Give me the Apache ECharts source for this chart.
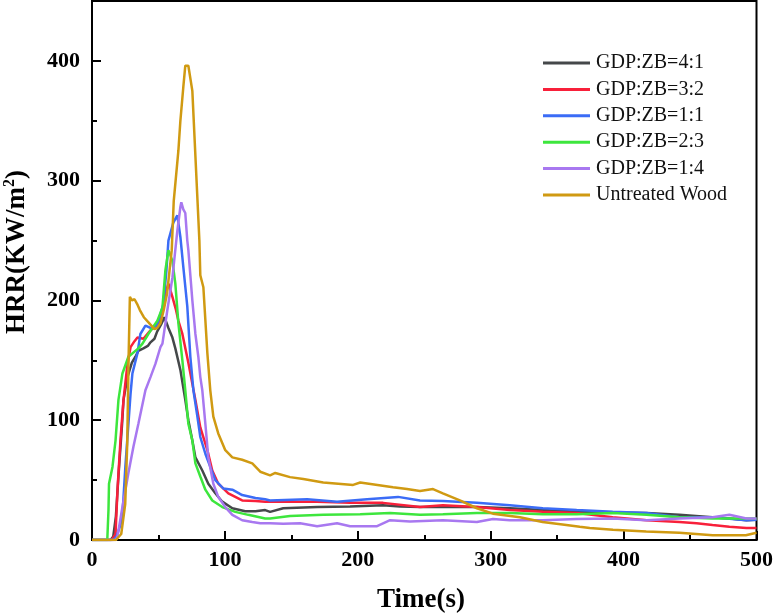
<!DOCTYPE html>
<html>
<head>
<meta charset="utf-8">
<script src="https://cdn.jsdelivr.net/npm/echarts@6/dist/echarts.min.js"></script>
<style>html,body{margin:0;padding:0;background:#fff}#c{width:776px;height:616px}</style>
</head>
<body>
<div id="c"></div>
<script>
const seriesNames = ['GDP:ZB=4:1','GDP:ZB=3:2','GDP:ZB=1:1','GDP:ZB=2:3','GDP:ZB=1:4','Untreated Wood'];
const seriesColors = ['#45484a','#f8203a','#3b6cf6','#3de63d','#a878f0','#d09a12'];
const xTicks = [0,100,200,300,400,500];
const yTicks = [0,100,200,300,400];

const t41 = [0,14,16,18,20,22.7,23.7,26.7,30,32.7,34.9,38.7,42,44,47,49,52,54.5,57.5,60.5,62.7,66.5,70.2,72.5,75.5,77.8,83,87.5,92.8,98,105.6,115.3,123,130.3,134,143.9,169.4,194.2,219,231.8,246.8,264,289.6,314.4,339.2,364.7,391.8,417.3,442,466.9,480,492.4,500];
const v41 = [0,0,3,20,55,98,117,136,148,153,158,160,162,165,168,174,180,186,177,169,160,142,117,100,83,69,58,47,39,32,26.5,24,24,25,23.5,26.5,27.5,28,29,28,27.5,27.5,27.5,26.5,25,23.5,23,22.5,21,19,18,16.5,17];

const t32 = [0,15,17.7,19.2,21.4,23.7,26.7,29,32,34.2,38.7,44,50,53,55,57.5,60.5,63,65,68,72.5,77.8,81.5,86.8,90.5,95,102.6,113,123,130.3,143.9,169.4,194.2,219,246.8,264,289.6,314.4,339.2,364.7,391.8,417.3,442,454.9,466.9,479.6,492.4,500];
const v32 = [0,0,5,42,83,117,147,161,166,169,168,175,181,190,205,214,203,193,183,172,148,117,94,75,58,47,39,33,32.5,32,32,32,31,31,27.5,29,27.5,25,23.5,22.5,19,16.5,15,14,12.5,11,10,10];

const t11 = [0,16,18.5,20,22.7,25.1,27.4,29,30.4,34.2,36.4,40.2,44,47.7,50,53.7,56,57.5,61.2,64.2,66.5,68.7,71.7,74,76.3,79.3,81.5,85.3,89,92.8,98.8,105.6,113,123,130.3,134,161.9,184.4,207,230.3,246.8,264,289.6,314.4,339.2,364.7,391.8,417.3,442,466.9,492.4,500];
const v11 = [0,0,3,8,17,61,97,122,139,156,172,179,177,177,183,197,225,250,265,271,253,228,195,153,125,103,86,72,61,50,43,42,37.5,35,34,33,34,32,34,36,33,32.5,31,29,26.5,25,23.5,22.5,19,19,16.5,17];

const t23 = [0,11.5,12.4,12.8,15.4,17.7,19.9,22.9,27.4,34.9,38,42.4,49.2,53,55.2,57.5,60.5,62.7,65,68,70.2,72.5,75.5,77.8,81.5,85.3,90.5,98,107.8,117.6,130.3,134,149,174,201.8,224.3,246.8,264,289.6,314.4,339.2,364.7,391.8,417.3,442,466.9,492.4,500];
const v23 = [0,0,25,47,61,83,117,139,153,160,164,172,183,194,225,242,233,214,181,150,125,97,83,64,53,42,33,27.5,23.5,21,18,18,20,21,21.5,22.5,21,21.5,22.5,22.5,21.5,21.5,22.5,21,19,18,18,18];

const t14 = [0,17.7,19,22.9,27.4,31.2,34.9,40.2,44,47.7,51.5,53,56.7,60.5,64.2,66.5,67.2,68.7,70.2,71.7,72.5,75.5,77.8,80,81.5,83,85.3,87.5,91.3,95,100.3,105.6,113,120.6,126.6,134,143.9,156.6,169.4,184.4,194.2,214.5,224.3,239.3,264,289.6,301.7,314.4,339.2,364.7,391.8,417.3,442,466.9,479.6,492.4,500];
const v14 = [0,0,2,27.5,56,78,97,125,136,147,161,164,192,219,258,278,282,276,273,250,242,200,172,153,136,125,97,69,47,36,27.5,21,16.5,15,14,14,13.5,14,11.5,14,11.5,11.5,16.5,15.5,16.5,15,17.5,16.5,16.5,17.5,18,16.5,18,19,21,18,18];

const tWood = [0,18,22,25,26.5,27.5,28.5,30,32,34,36,39,43,47,49,51.5,54,56.5,60,61.5,65,66.5,68.7,70.2,72.5,75.5,80.8,81.5,83,83.8,86.8,89,91.3,95,100.3,105.6,113,120.6,126.6,134,137.9,149,159,174,196.5,201.8,226.5,237,246.8,256.6,264,276.8,289.6,301.7,322,339,354,367,374.5,392,417,442,467,492,500];
const vWood = [0,0,5,30,80,150,203,200,201,197,192,186,181,176,177,181,192,206,242,283,325,350,378,396,396,375,250,221,221,211,156,125,103,89,75,69,67,64,57,54,56,52.5,51,48,46,48,44,42.5,41,42.5,39,33,26.5,22,19,15,13,11,10,8.5,7,6,4,4,6];

const allT = [t41,t32,t11,t23,t14,tWood];
const allV = [v41,v32,v11,v23,v14,vWood];

const FONT = '"Liberation Serif","Times New Roman",serif';
const chart = echarts.init(document.getElementById('c'), null, {renderer:'canvas'});

const series = seriesNames.map((n,i)=>({
  name:n, type:'line', symbol:'none', showSymbol:false, animation:false,
  data: allT[i].map((t,j)=>[t, allV[i][j]]),
  lineStyle:{color:seriesColors[i], width:2.5},
  itemStyle:{color:seriesColors[i]},
  z: 2+i
}));

chart.setOption({
  backgroundColor:'#fff',
  animation:false,
  grid:{left:92, right:19, top:1, bottom:76, show:true, borderColor:'#000', borderWidth:2, backgroundColor:'transparent'},
  legend:{
    orient:'vertical', left:538, top:48, itemWidth:47, itemHeight:20, itemGap:6.4,
    icon:'path://M0,9 L47,9 L47,12 L0,12 Z',
    textStyle:{fontFamily:FONT, fontSize:20, color:'#111', padding:[0,0,0,1]},
    data: seriesNames.map((n,i)=>({name:n, itemStyle:{color:seriesColors[i]}}))
  },
  xAxis:{
    type:'value', min:0, max:500, interval:100,
    axisLine:{show:true, onZero:false, lineStyle:{color:'#000', width:2}},
    axisTick:{show:true, inside:true, length:9, lineStyle:{color:'#000', width:2}},
    minorTick:{show:true, splitNumber:2, length:5, lineStyle:{color:'#000', width:2}},
    splitLine:{show:false},
    axisLabel:{fontFamily:FONT, fontWeight:'bold', fontSize:22, color:'#000', margin:9,
      formatter:(v)=> xTicks.includes(v) ? String(v) : ''}
  },
  yAxis:{
    type:'value', min:0, max:450, interval:100,
    axisLine:{show:true, onZero:false, lineStyle:{color:'#000', width:2}},
    axisTick:{show:true, inside:true, length:9, lineStyle:{color:'#000', width:2}},
    minorTick:{show:true, splitNumber:2, length:5, lineStyle:{color:'#000', width:2}},
    splitLine:{show:false},
    axisLabel:{fontFamily:FONT, fontWeight:'bold', fontSize:22, color:'#000', margin:12, showMaxLabel:false,
      formatter:(v)=> yTicks.includes(v) ? String(v) : ''}
  },
  graphic:[
    {type:'text', x:421, y:600, style:{text:'Time(s)', font:'bold 27px '+FONT, fill:'#000', align:'center', verticalAlign:'middle'}},
    {type:'text', x:17, y:252, rotation:Math.PI/2,
      style:{text:'{a|HRR(KW/m}{s|2}{a|)}', align:'center', verticalAlign:'middle',
        rich:{a:{font:'bold 27px '+FONT, fill:'#000', lineHeight:30},
              s:{font:'bold 16px '+FONT, fill:'#000', verticalAlign:'top', lineHeight:30, padding:[0,0,12,0]}}}}
  ],
  series: series
});
</script>
</body>
</html>
